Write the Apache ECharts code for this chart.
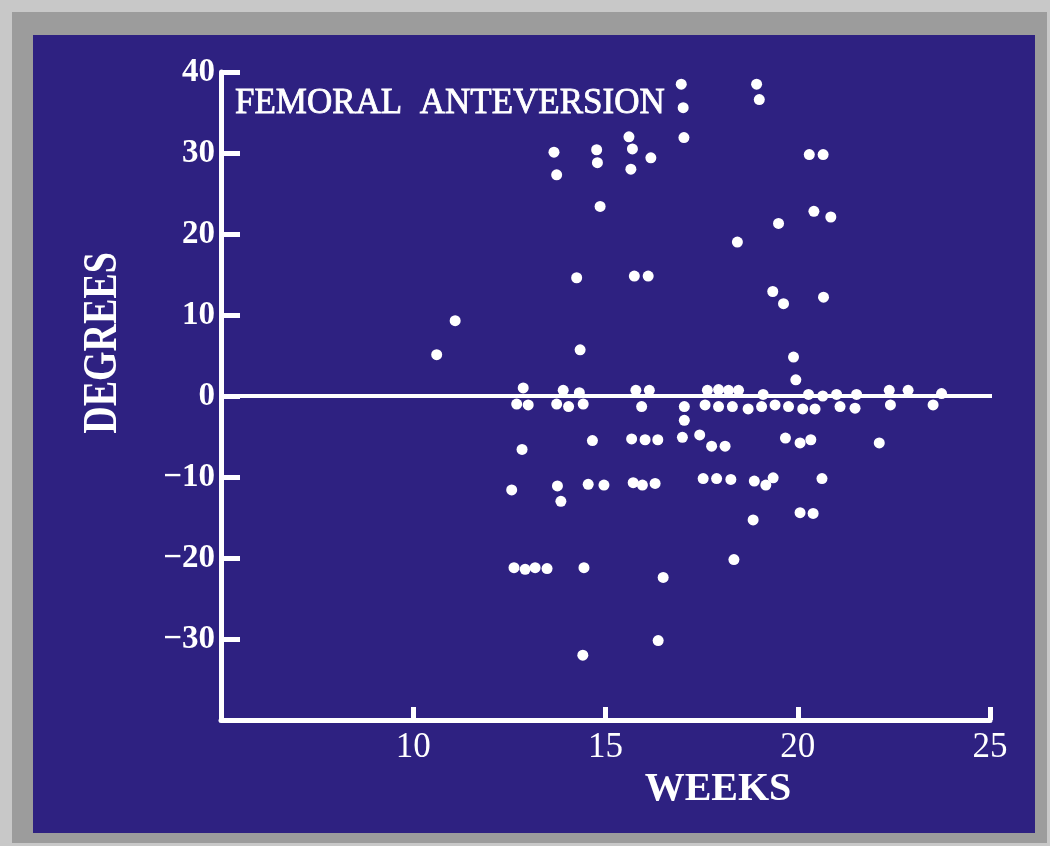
<!DOCTYPE html>
<html>
<head>
    <meta charset="UTF-8">
    <title>Femoral anteversion</title>
    <script src="https://cdn.jsdelivr.net/npm/echarts@6/dist/echarts.min.js"></script>
    <style type="text/css">
        body { margin: 0; background: #c8c8c8; }
        #frame { position: absolute; left: 12px; top: 12px; width: 1035px; height: 831px; background: #9c9c9c; }
        #container { position: absolute; left: 33px; top: 35px; width: 1002px; height: 798px; }
    </style>
</head>
<body>
    <div id="frame"></div>
    <div id="container"></div>

    <script type="text/javascript">
        var weeks = [
            16.97, 17.02, 17.04, 18.93, 19.00, 15.61, 15.70, 15.66, 16.18, 13.66,
            13.73, 14.77, 14.79, 14.86, 19.50, 18.43, 20.30, 20.66, 20.42, 20.86,
            14.25, 15.75, 16.11, 11.09, 10.61, 14.34, 19.35, 19.63, 20.67, 19.89,
            19.95,
            12.86, 12.69, 12.99, 13.90, 13.73, 14.04, 14.32, 14.42, 15.79, 16.14,
            15.94, 17.05, 17.05, 17.00, 17.45, 17.65, 17.94, 18.20, 18.46, 17.59,
            17.94, 18.30, 18.71, 19.10, 19.06, 19.41, 19.76, 20.13, 20.28, 20.45,
            20.65, 21.01, 21.10, 21.53, 21.49, 22.38, 22.41, 22.87, 23.52, 23.74,
            14.66, 15.68, 16.03, 16.36, 12.83, 17.76, 18.11, 19.68, 20.06, 20.34,
            22.12, 12.56, 13.75, 13.84, 14.55, 14.96, 15.72, 15.96, 16.29, 17.54,
            17.89, 18.26, 18.87, 19.17, 19.36, 20.63, 20.06, 20.40, 18.84, 18.34,
            12.62, 12.91, 13.17, 13.48, 14.44, 16.50, 16.37, 14.41
        ];
        var degrees = [
            38.5, 35.6, 31.9, 38.5, 36.6, 32.0, 30.5, 28.0, 29.4, 30.1,
            27.3, 30.4, 28.8, 23.4, 21.3, 19.0, 29.8, 29.8, 22.8, 22.1,
            14.6, 14.8, 14.8, 9.3, 5.1, 5.7, 12.9, 11.4, 12.2, 4.8,
            2.0,
            1.0, -1.0, -1.1, 0.7, -1.0, -1.3, 0.4, -1.0, 0.7, 0.7,
            -1.3, -1.3, -3.0, -5.1, -4.8, 0.7, 0.8, 0.7, 0.7, -1.1,
            -1.3, -1.3, -1.6, 0.2, -1.3, -1.1, -1.3, -1.6, 0.2, -1.6,
            0.0, 0.2, -1.3, 0.2, -1.5, 0.7, -1.1, 0.7, -1.1, 0.3,
            -5.5, -5.3, -5.4, -5.4, -6.6, -6.2, -6.2, -5.2, -5.8, -5.4,
            -5.8, -11.6, -11.1, -13.0, -10.9, -11.0, -10.7, -11.0, -10.8, -10.2,
            -10.2, -10.3, -10.5, -11.0, -10.1, -10.2, -14.4, -14.5, -15.3, -20.2,
            -21.2, -21.4, -21.2, -21.3, -21.2, -22.4, -30.2, -32.0
        ];
        var zeroLine = [[5.1, 0], [25.25, 0]];   // the 0-degree reference line
        var weekTicks = [5, 25, 5];     // min, max, interval
        var degreeTicks = [-40, 40, 10];

        var points = weeks.map((w, i) => [w, degrees[i]]);
        var serif = "'Liberation Serif', 'DejaVu Serif', serif";

        var myChart = echarts.init(document.getElementById("container"));
        var option = {
            backgroundColor: '#2e2181',
            animation: false,
            grid: {
                left: 188,
                top: 37,
                width: 769,
                height: 648
            },
            xAxis: {
                type: 'value',
                min: weekTicks[0],
                max: weekTicks[1],
                interval: weekTicks[2],
                splitLine: { show: false },
                axisLine: { onZero: false, lineStyle: { color: '#fff', width: 5 } },
                axisTick: { inside: true, length: 13, lineStyle: { color: '#fff', width: 5 } },
                axisLabel: {
                    showMinLabel: false,
                    color: '#fff',
                    fontFamily: serif,
                    fontSize: 35,
                    margin: 10
                }
            },
            yAxis: {
                type: 'value',
                min: degreeTicks[0],
                max: degreeTicks[1],
                interval: degreeTicks[2],
                splitLine: { show: false },
                axisLine: { onZero: false, lineStyle: { color: '#fff', width: 5 } },
                axisTick: { inside: true, length: 19, lineStyle: { color: '#fff', width: 5 } },
                axisLabel: {
                    showMinLabel: false,
                    color: '#fff',
                    fontFamily: serif,
                    fontWeight: 'bold',
                    fontSize: 33,
                    margin: 6,
                    formatter: v => String(v).replace('-', '\u2212')
                }
            },
            graphic: [{
                type: 'text',
                x: 202,
                y: 69,
                style: {
                    text: 'FEMORAL  ANTEVERSION',
                    fill: '#fff',
                    stroke: '#fff',
                    lineWidth: 0.8,
                    font: '35px ' + serif,
                    textAlign: 'left',
                    textVerticalAlign: 'middle'
                }
            }, {
                type: 'text',
                x: 71,
                y: 308,
                rotation: Math.PI / 2,
                scaleY: 1.25,
                style: {
                    text: 'DEGREES',
                    fill: '#fff',
                    font: 'bold 38px ' + serif,
                    textAlign: 'center',
                    textVerticalAlign: 'middle'
                }
            }, {
                type: 'text',
                x: 685,
                y: 755,
                style: {
                    text: 'WEEKS',
                    fill: '#fff',
                    font: 'bold 40px ' + serif,
                    textAlign: 'center',
                    textVerticalAlign: 'middle'
                }
            }],
            series: [{
                type: 'line',
                data: zeroLine,
                symbol: 'none',
                clip: false,
                silent: true,
                lineStyle: { color: '#fff', width: 4 },
                z: 1
            }, {
                type: 'scatter',
                data: points,
                symbol: 'circle',
                symbolSize: 11,
                clip: false,
                itemStyle: { color: '#fff', opacity: 1 },
                z: 2
            }]
        };
        myChart.setOption(option);
    </script>
</body>
</html>
